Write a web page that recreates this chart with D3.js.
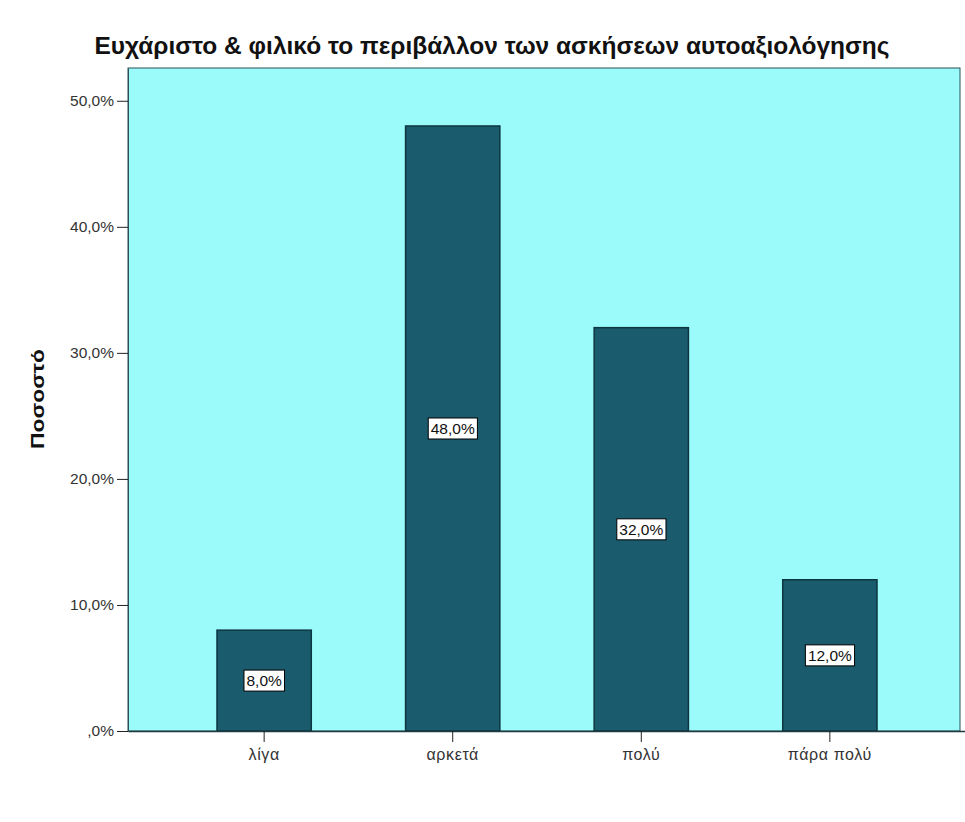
<!DOCTYPE html>
<html>
<head>
<meta charset="utf-8">
<script src="https://cdn.jsdelivr.net/npm/d3@7"></script>
<style>
  html, body { margin: 0; padding: 0; background: #ffffff; }
  svg { display: block; }
</style>
</head>
<body>
<svg id="chart" width="965" height="822"></svg>
<script>
const chartTitle = "Ευχάριστο & φιλικό το περιβάλλον των ασκήσεων αυτοαξιολόγησης";
const yAxisTitle = "Ποσοστό";
const categories = ["λίγα", "αρκετά", "πολύ", "πάρα πολύ"];
const percentValues = [8.0, 48.0, 32.0, 12.0];
const yTickValues = [0, 10, 20, 30, 40, 50];

const fmt = v => (v === 0 ? ",0%" : d3.format(".1f")(v).replace(".", ",") + "%");

const svg = d3.select("#chart");
const plotL = 128, plotR = 960, plotT = 68, plotB = 731;
const FONT = "Liberation Sans, Arial, sans-serif";

const y = d3.scaleLinear().domain([0, 52.6]).range([plotB, plotT]);
const x = d3.scaleBand().domain(categories).range([plotL, plotR + 6])
  .paddingInner(0.5).paddingOuter(0.472);

// plot background
svg.append("rect")
  .attr("x", plotL).attr("y", plotT)
  .attr("width", plotR - plotL).attr("height", plotB - plotT)
  .attr("fill", "#9bfbfb")
  .attr("stroke", "#2a4f55").attr("stroke-width", 1);

// bars
const bars = svg.append("g");
bars.selectAll("rect").data(percentValues).join("rect")
  .attr("x", (d, i) => x(categories[i]))
  .attr("y", d => y(d))
  .attr("width", x.bandwidth())
  .attr("height", d => plotB - y(d))
  .attr("fill", "#1b5b6e")
  .attr("stroke", "#0c3640").attr("stroke-width", 1.5);

// value labels
const labels = svg.append("g");
percentValues.forEach((d, i) => {
  const cx = x(categories[i]) + x.bandwidth() / 2;
  const cy = y(d / 2);
  const g = labels.append("g");
  const t = g.append("text")
    .attr("x", cx).attr("y", cy + 5.5)
    .attr("text-anchor", "middle")
    .attr("font-family", FONT)
    .attr("font-size", 15.5)
    .attr("fill", "#111")
    .text(fmt(d));
  const bb = t.node().getBBox();
  g.insert("rect", "text")
    .attr("x", bb.x - 2.5).attr("y", cy - 10.5)
    .attr("width", bb.width + 5).attr("height", 21)
    .attr("fill", "#ffffff").attr("stroke", "#000").attr("stroke-width", 1);
});

// y axis
const yAxis = svg.append("g")
  .attr("transform", `translate(${plotL},0)`)
  .call(d3.axisLeft(y).tickValues(yTickValues).tickFormat(fmt)
    .tickSizeInner(11).tickSizeOuter(0).tickPadding(3));
yAxis.select(".domain").attr("stroke", "#2a4f55");
yAxis.selectAll(".tick line").attr("stroke", "#222");
yAxis.selectAll("text")
  .attr("font-family", FONT)
  .attr("font-size", 15.5).attr("fill", "#333");

// x axis
const xAxis = svg.append("g")
  .attr("transform", `translate(0,${plotB})`)
  .call(d3.axisBottom(x).tickSizeInner(11).tickSizeOuter(0).tickPadding(7));
xAxis.select(".domain").attr("stroke", "#1c3a40").attr("stroke-width", 1.5);
xAxis.selectAll(".tick line").attr("stroke", "#222");
xAxis.selectAll("text")
  .attr("font-family", FONT)
  .attr("font-size", 16).attr("letter-spacing", 0.6).attr("fill", "#333");

// titles
svg.append("text")
  .attr("x", 492).attr("y", 54)
  .attr("text-anchor", "middle")
  .attr("font-family", FONT)
  .attr("font-weight", "bold").attr("font-size", 23)
  .attr("textLength", 795).attr("lengthAdjust", "spacingAndGlyphs")
  .attr("fill", "#111")
  .text(chartTitle);

svg.append("text")
  .attr("transform", "translate(44,399) rotate(-90)")
  .attr("text-anchor", "middle")
  .attr("font-family", FONT)
  .attr("font-weight", "bold").attr("font-size", 19)
  .attr("textLength", 100).attr("lengthAdjust", "spacingAndGlyphs")
  .attr("fill", "#111")
  .text(yAxisTitle);
</script>
</body>
</html>
